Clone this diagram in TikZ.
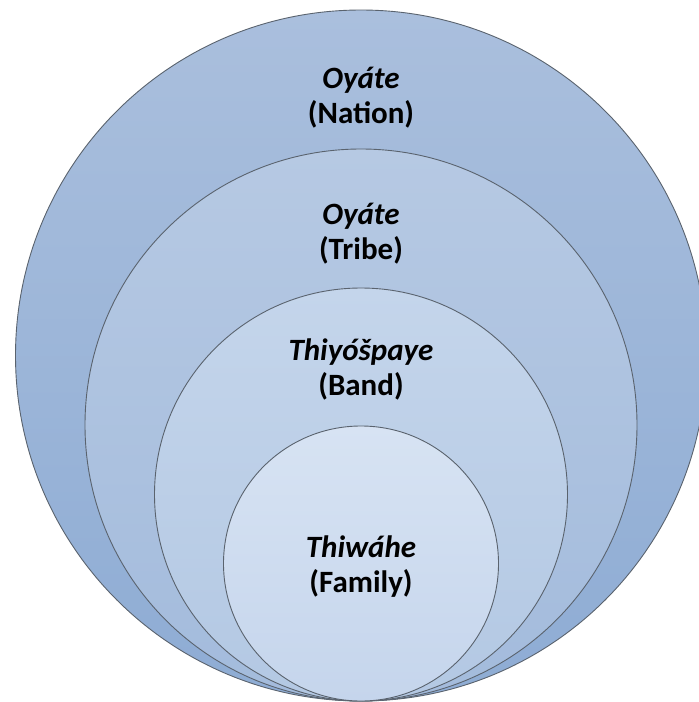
\documentclass[tikz,border=0pt]{standalone}
\usepackage{fontspec}
\setmainfont{Carlito}
\definecolor{edge}{HTML}{5A636E}
\definecolor{c1t}{HTML}{AABFDD}
\definecolor{c1b}{HTML}{8EACD4}
\definecolor{c2t}{HTML}{B6C9E3}
\definecolor{c2b}{HTML}{A3BBDC}
\definecolor{c3t}{HTML}{C4D5EB}
\definecolor{c3b}{HTML}{B3C8E3}
\definecolor{c4t}{HTML}{D7E3F3}
\definecolor{c4b}{HTML}{C5D5EC}
\tikzset{
  ring/.style={circle, draw=edge, line width=0.9pt, inner sep=0pt, minimum size=#1},
  lbl/.style={align=center, text=black, font=\fontsize{31}{35}\selectfont\bfseries, inner sep=0pt}
}
\begin{document}
\begin{tikzpicture}[x=1pt,y=-1pt]
\useasboundingbox (0,0) rectangle (699,702);
\clip (0,0) rectangle (699,702);
\node[ring=691pt, top color=c1t, bottom color=c1b] (nation) at (361,355.5) {};
\node[ring=552pt, top color=c2t, bottom color=c2b] (tribe) at (361,425) {};
\node[ring=413pt, top color=c3t, bottom color=c3b] (band) at (361,494.5) {};
\node[ring=275pt, top color=c4t, bottom color=c4b] (family) at (361,563.5) {};
\node[lbl] (tnation) at (361,98) {\itshape Oyáte\\(Nation)};
\node[lbl] (ttribe) at (361,234) {\itshape Oyáte\\(Tribe)};
\node[lbl] (tband) at (361,369) {\itshape Thiyóšpaye\\(Band)};
\node[lbl] (tfamily) at (361,567) {\itshape Thiwáhe\\(Family)};
\end{tikzpicture}
\end{document}
